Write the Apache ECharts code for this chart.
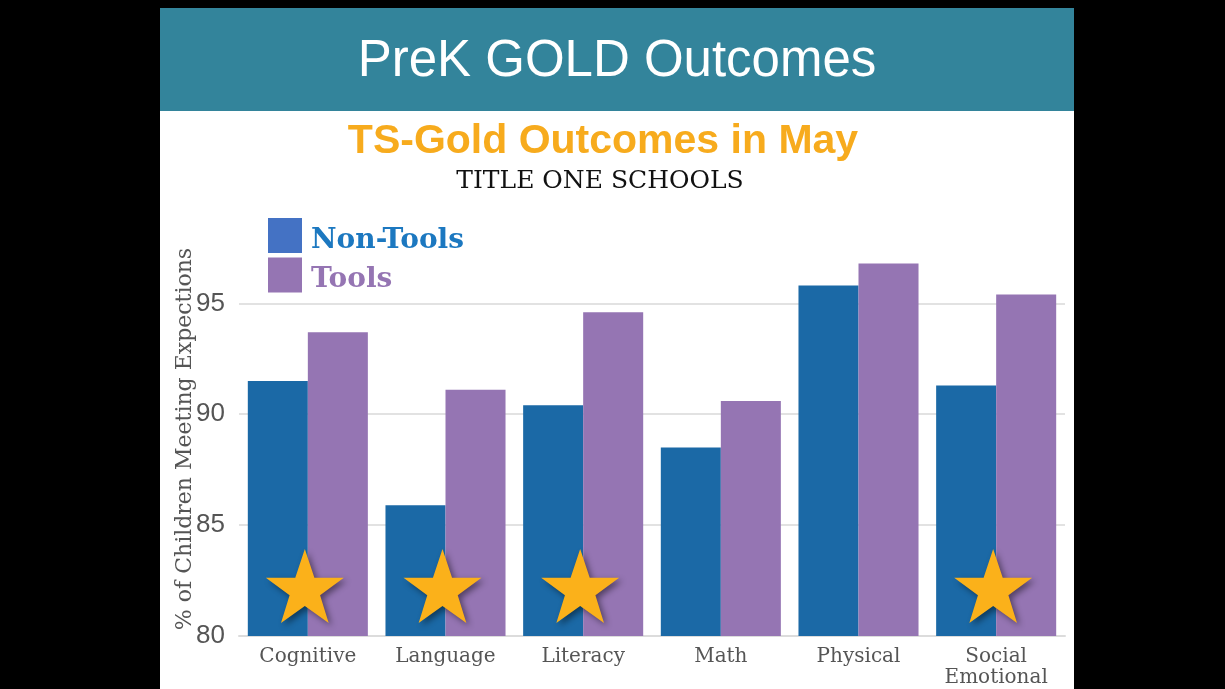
<!DOCTYPE html>
<html>
<head>
<meta charset="utf-8">
<title>PreK GOLD Outcomes</title>
<script src="https://cdn.jsdelivr.net/npm/echarts@6/dist/echarts.min.js"></script>
<style>
  html, body { margin: 0; padding: 0; background: #000; }
  #main { width: 1225px; height: 689px; }
</style>
</head>
<body>
<div id="main"></div>
<script>
// chart data
var categories = ['Cognitive', 'Language', 'Literacy', 'Math', 'Physical', 'Social\nEmotional'];
var nonTools = [91.5, 85.9, 90.4, 88.5, 95.8, 91.3];
var tools = [93.7, 91.1, 94.6, 90.6, 96.8, 95.4];
// star markers (where the difference is marked), '-' = no star
var stars = [82.25, 82.25, 82.25, '-', '-', 82.25];
var yTicks = [80, 85, 90, 95];

var starPath = 'path://M50,0 L61.8,35.1 L98.1,35.1 L68.8,56.7 L79.4,91 L50,70 L20.6,91 L31.2,56.7 L1.9,35.1 L38.2,35.1 Z';
var slabFont = '"DejaVu Serif", serif';

var myChart = echarts.init(document.getElementById('main'));

var option = {
  backgroundColor: '#000',
  animation: false,
  graphic: [
    // slide
    { type: 'rect', z: -10, shape: { x: 160, y: 8, width: 914, height: 681 }, style: { fill: '#fff' } },
    // header band
    { type: 'rect', z: -9, shape: { x: 160, y: 8, width: 914, height: 103 }, style: { fill: '#33849b' } },
    { type: 'text', x: 617, y: 62, style: {
        text: 'PreK GOLD Outcomes', fill: '#fff', font: '51px "Liberation Sans", Arial, sans-serif',
        textAlign: 'center', textVerticalAlign: 'middle' } },
    { type: 'text', x: 603, y: 142, style: {
        text: 'TS-Gold Outcomes in May', fill: '#f7ab1d', font: 'bold 41px "Liberation Sans", Arial, sans-serif',
        textAlign: 'center', textVerticalAlign: 'middle' } },
    { type: 'text', x: 600, y: 181, style: {
        text: 'TITLE ONE SCHOOLS', fill: '#111', font: '25px "DejaVu Serif", serif',
        textAlign: 'center', textVerticalAlign: 'middle' } },
    // y axis title
    { type: 'text', x: 185, y: 439, rotation: Math.PI / 2, style: {
        text: '% of Children Meeting Expections', fill: '#555', font: '22px "DejaVu Serif", serif',
        textAlign: 'center', textVerticalAlign: 'middle' } }
  ],
  legend: {
    orient: 'vertical',
    left: 263,
    top: 213,
    itemWidth: 34,
    itemHeight: 35,
    itemGap: 3,
    icon: 'rect',
    selectedMode: false,
    data: [
      { name: 'Non-Tools', itemStyle: { color: '#4472c4' } },
      { name: 'Tools', itemStyle: { color: '#9575b3' } }
    ],
    formatter: function (name) {
      return '{' + (name === 'Tools' ? 't' : 'n') + '|' + name + '}';
    },
    textStyle: {
      rich: {
        n: { color: '#1c78c0', fontFamily: slabFont, fontWeight: 'bold', fontSize: 28, padding: [10, 0, 0, 4] },
        t: { color: '#9575b3', fontFamily: slabFont, fontWeight: 'bold', fontSize: 28, padding: [10, 0, 0, 4] }
      }
    }
  },
  grid: { left: 239, right: 160, top: 259, bottom: 53 },
  xAxis: {
    type: 'category',
    data: categories,
    axisLine: { lineStyle: { color: '#dcdcdc', width: 2 } },
    axisTick: { show: false },
    axisLabel: { color: '#555', fontFamily: slabFont, fontSize: 20, margin: 10, lineHeight: 21 }
  },
  yAxis: {
    type: 'value',
    min: 80,
    max: 97,
    interval: 5,
    axisLine: { show: false },
    axisTick: { show: false },
    axisLabel: {
      color: '#555', fontFamily: '"Liberation Sans", Arial, sans-serif', fontSize: 26, margin: 14,
      formatter: function (v) { return yTicks.indexOf(v) >= 0 ? String(v) : ''; }
    },
    splitLine: { showMaxLine: false, lineStyle: { color: '#e2e2e2', width: 2 } }
  },
  series: [
    { name: 'Non-Tools', type: 'bar', data: nonTools, barGap: '0%', barCategoryGap: '12.8%',
      itemStyle: { color: '#1b69a6' } },
    { name: 'Tools', type: 'bar', data: tools, barGap: '0%', barCategoryGap: '12.8%',
      itemStyle: { color: '#9575b3' } },
    { name: 'stars', type: 'scatter', data: stars, symbol: starPath, symbolSize: [78, 74],
      symbolOffset: [-3, 0], z: 5,
      itemStyle: { color: '#fbb11a', opacity: 1, shadowBlur: 6, shadowColor: 'rgba(0,0,0,0.45)',
        shadowOffsetX: 3, shadowOffsetY: 3 } }
  ]
};

myChart.setOption(option);
</script>
</body>
</html>
